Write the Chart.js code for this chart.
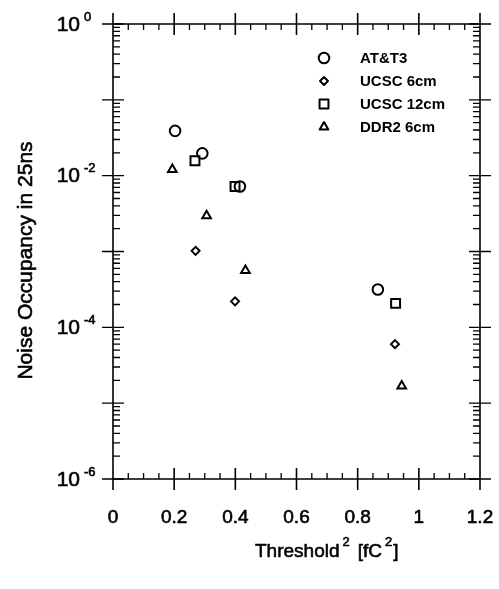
<!DOCTYPE html>
<html><head><meta charset="utf-8">
<script src="https://cdn.jsdelivr.net/npm/chart.js@4/dist/chart.umd.min.js"></script>
<style>html,body{margin:0;padding:0;background:#fff;} #wrap{width:499px;height:589px;}</style>
</head><body><div id="wrap"><canvas id="c" width="499" height="589"></canvas></div>
<script>
const seriesNames = ['AT&T3', 'UCSC 6cm', 'UCSC 12cm', 'DDR2 6cm'];
const att3X = [0.203, 0.292, 0.415, 0.866];
const att3Y = [0.039, 0.0197, 0.0072, 3.15e-4];
const ucsc6X = [0.270, 0.399, 0.922];
const ucsc6Y = [1.02e-3, 2.2e-4, 6.0e-5];
const ucsc12X = [0.268, 0.399, 0.924];
const ucsc12Y = [0.0157, 0.0072, 2.07e-4];
const ddr2X = [0.194, 0.306, 0.433, 0.944];
const ddr2Y = [0.0121, 2.96e-3, 5.6e-4, 1.68e-5];
const xTickValues = [0, 0.2, 0.4, 0.6, 0.8, 1, 1.2];
const xTickLabels = ['0', '0.2', '0.4', '0.6', '0.8', '1', '1.2'];
const yLabelExponents = [0, -2, -4, -6];
const yTitle = 'Noise Occupancy in 25ns';

const FONT = "'Liberation Sans', Arial, sans-serif";
const pts = (xs, ys) => xs.map((x, i) => ({x: x, y: ys[i]}));
const styles = [
  {pointStyle: 'circle', radius: 5.3},
  {pointStyle: 'rectRot', radius: 4},
  {pointStyle: 'rect', radius: 6.3},
  {pointStyle: 'triangle', radius: 5}
];
const allData = [pts(att3X, att3Y), pts(ucsc6X, ucsc6Y), pts(ucsc12X, ucsc12Y), pts(ddr2X, ddr2Y)];
const datasets = allData.map((d, i) => ({
  label: seriesNames[i], data: d,
  pointStyle: styles[i].pointStyle, pointRadius: styles[i].radius,
  pointBorderColor: '#000', pointBackgroundColor: 'rgba(255,255,255,0)',
  pointBorderWidth: 2, showLine: false
}));

function drawMarker(ctx, style, radius, x, y) {
  const opts = {pointStyle: style, radius: radius, rotation: 0, borderWidth: 2};
  ctx.save();
  ctx.strokeStyle = '#000'; ctx.fillStyle = 'rgba(255,255,255,0)'; ctx.lineWidth = 2;
  Chart.helpers.drawPoint(ctx, opts, x, y);
  ctx.restore();
}

function heavyText(ctx, s, x, y) {
  ctx.fillText(s, x, y);
  ctx.strokeText(s, x, y);
}

const framePlugin = {
  id: 'frame',
  beforeDatasetsDraw(chart) {
    const ctx = chart.ctx, a = chart.chartArea, xs = chart.scales.x, ys = chart.scales.y;
    const L = a.left, R = a.right, T = a.top, B = a.bottom;
    ctx.save();
    ctx.strokeStyle = '#000'; ctx.lineWidth = 1.6; ctx.lineCap = 'butt';
    ctx.beginPath();
    ctx.rect(L, T, R - L, B - T);
    xTickValues.forEach(v => {
      const px = xs.getPixelForValue(v);
      ctx.moveTo(px, B - 11); ctx.lineTo(px, B + 11);
      ctx.moveTo(px, T - 11); ctx.lineTo(px, T + 11);
    });
    ctx.stroke();
    ctx.lineWidth = 1.3;
    ctx.beginPath();
    for (let i = 1; i < 24; i++) {
      if (i % 4 === 0) continue;
      const px = xs.getPixelForValue(i * 0.05);
      ctx.moveTo(px, B); ctx.lineTo(px, B - 6);
      ctx.moveTo(px, T); ctx.lineTo(px, T + 6);
    }
    for (let e = -6; e <= 0; e++) {
      const py = ys.getPixelForValue(Math.pow(10, e));
      ctx.moveTo(L - 11, py); ctx.lineTo(L + 11, py);
      ctx.moveTo(R - 11, py); ctx.lineTo(R + 11, py);
      if (e < 0) {
        for (let m = 2; m <= 9; m++) {
          const pm = ys.getPixelForValue(m * Math.pow(10, e));
          ctx.moveTo(L, pm); ctx.lineTo(L + 7, pm);
          ctx.moveTo(R, pm); ctx.lineTo(R - 7, pm);
        }
      }
    }
    ctx.stroke();

    ctx.fillStyle = '#000'; ctx.lineWidth = 0.6; ctx.lineJoin = 'round';
    // x tick labels
    ctx.font = '19px ' + FONT; ctx.textAlign = 'center'; ctx.textBaseline = 'middle';
    xTickValues.forEach((v, i) => heavyText(ctx, xTickLabels[i], xs.getPixelForValue(v), B + 39));
    // y tick labels
    yLabelExponents.forEach(e => {
      const py = ys.getPixelForValue(Math.pow(10, e));
      ctx.font = '21px ' + FONT; ctx.textAlign = 'right'; ctx.textBaseline = 'middle';
      heavyText(ctx, '10', 80, py + 1);
      ctx.font = '13px ' + FONT; ctx.textAlign = 'left';
      heavyText(ctx, e === 0 ? '0' : '-' + Math.abs(e), 84, py - 7);
    });
    // x title
    ctx.textAlign = 'left'; ctx.textBaseline = 'alphabetic';
    ctx.font = '19px ' + FONT;
    let x = 255;
    heavyText(ctx, 'Threshold', x, 557); x += ctx.measureText('Threshold').width + 3;
    ctx.font = '13px ' + FONT; heavyText(ctx, '2', x, 546); x += ctx.measureText('2').width + 8;
    ctx.font = '19px ' + FONT; heavyText(ctx, '[fC', x, 557); x += ctx.measureText('[fC').width + 3;
    ctx.font = '13px ' + FONT; heavyText(ctx, '2', x, 546); x += ctx.measureText('2').width + 1;
    ctx.font = '19px ' + FONT; heavyText(ctx, ']', x, 557);
    // y title
    ctx.save();
    ctx.translate(26, (T + B) / 2 + 9);
    ctx.rotate(-Math.PI / 2);
    ctx.font = '21px ' + FONT; ctx.textAlign = 'center'; ctx.textBaseline = 'middle';
    heavyText(ctx, yTitle, 0, 0);
    ctx.restore();

    // legend
    const rows = [58, 81, 104, 127];
    seriesNames.forEach((n, i) => {
      drawMarker(ctx, styles[i].pointStyle, styles[i].radius, 324, rows[i]);
      ctx.font = 'bold 15px ' + FONT; ctx.textAlign = 'left'; ctx.textBaseline = 'middle';
      ctx.fillStyle = '#000';
      ctx.fillText(n, 360, rows[i] + 1);
    });
    ctx.restore();
  }
};

new Chart(document.getElementById('c'), {
  type: 'scatter',
  data: {datasets: datasets},
  options: {
    responsive: false, animation: false,
    layout: {padding: {left: 113, right: 19, top: 24, bottom: 110}},
    plugins: {legend: {display: false}, tooltip: {enabled: false}},
    scales: {
      x: {type: 'linear', min: 0, max: 1.2, display: false},
      y: {type: 'logarithmic', min: 1e-6, max: 1, display: false}
    }
  },
  plugins: [framePlugin]
});
</script></body></html>
